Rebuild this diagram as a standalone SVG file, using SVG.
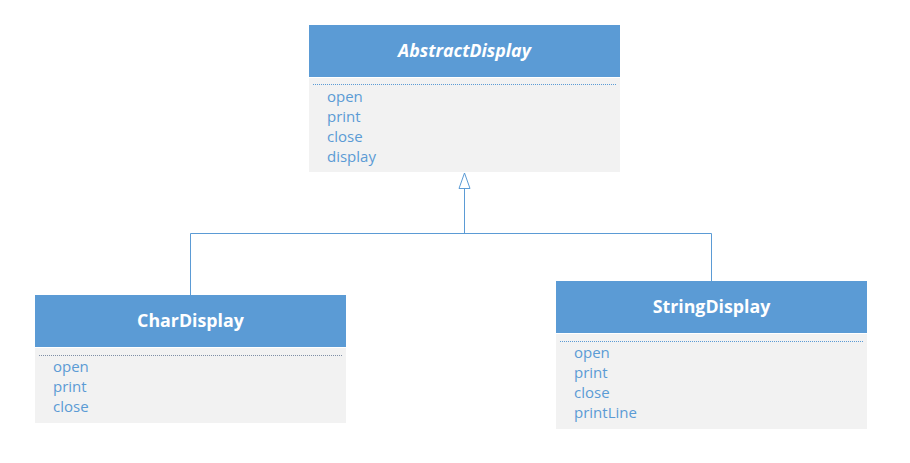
<svg xmlns="http://www.w3.org/2000/svg" width="910" height="463" viewBox="0 0 910 463">
<style>
.hdr{fill:#5B9BD5}
.body{fill:#F2F2F2}
.title{font-family:"Open Sans","Noto Sans",sans-serif;font-size:17.8px;font-weight:bold;fill:#FFFFFF;text-anchor:middle}
.op{font-family:"Open Sans","Noto Sans",sans-serif;font-size:15px;fill:#5B9BD5}
.sep{stroke:#5B9BD5;stroke-width:1;stroke-dasharray:1 1;fill:none}
.sep2{stroke:#7F8FA6;stroke-width:1;stroke-dasharray:1 1;fill:none}
.conn{stroke:#5B9BD5;stroke-width:1;fill:none}
</style>
<rect width="910" height="463" fill="#FFFFFF"/>
<g id="connectors">
<polyline class="conn" points="190.5,295 190.5,233.5 711.5,233.5 711.5,281"/>
<line class="conn" x1="464.5" y1="233.5" x2="464.5" y2="188.5"/>
<polygon points="464.5,173 459,188.5 470,188.5" fill="#FFFFFF" stroke="#5B9BD5" stroke-width="1"/>
</g>
<g id="AbstractDisplay">
<rect class="hdr" x="309" y="25" width="311" height="52"/>
<rect class="body" x="309" y="78" width="311" height="94"/>
<line class="sep" x1="313" y1="84.5" x2="616" y2="84.5"/>
<text class="title" x="464.5" y="57" font-style="italic">AbstractDisplay</text>
<text class="op" x="327" y="102">open</text>
<text class="op" x="327" y="122">print</text>
<text class="op" x="327" y="142">close</text>
<text class="op" x="327" y="162">display</text>
</g>
<g id="CharDisplay">
<rect class="hdr" x="35" y="295" width="311" height="52"/>
<rect class="body" x="35" y="348" width="311" height="75"/>
<line class="sep2" x1="39" y1="355.5" x2="342" y2="355.5"/>
<text class="title" x="190.5" y="327">CharDisplay</text>
<text class="op" x="53" y="372">open</text>
<text class="op" x="53" y="392">print</text>
<text class="op" x="53" y="412">close</text>
</g>
<g id="StringDisplay">
<rect class="hdr" x="556" y="281" width="311" height="52"/>
<rect class="body" x="556" y="334" width="311" height="95"/>
<line class="sep" x1="560" y1="341.5" x2="863" y2="341.5"/>
<text class="title" x="711.5" y="313">StringDisplay</text>
<text class="op" x="574" y="358">open</text>
<text class="op" x="574" y="378">print</text>
<text class="op" x="574" y="398">close</text>
<text class="op" x="574" y="418">printLine</text>
</g>
</svg>
